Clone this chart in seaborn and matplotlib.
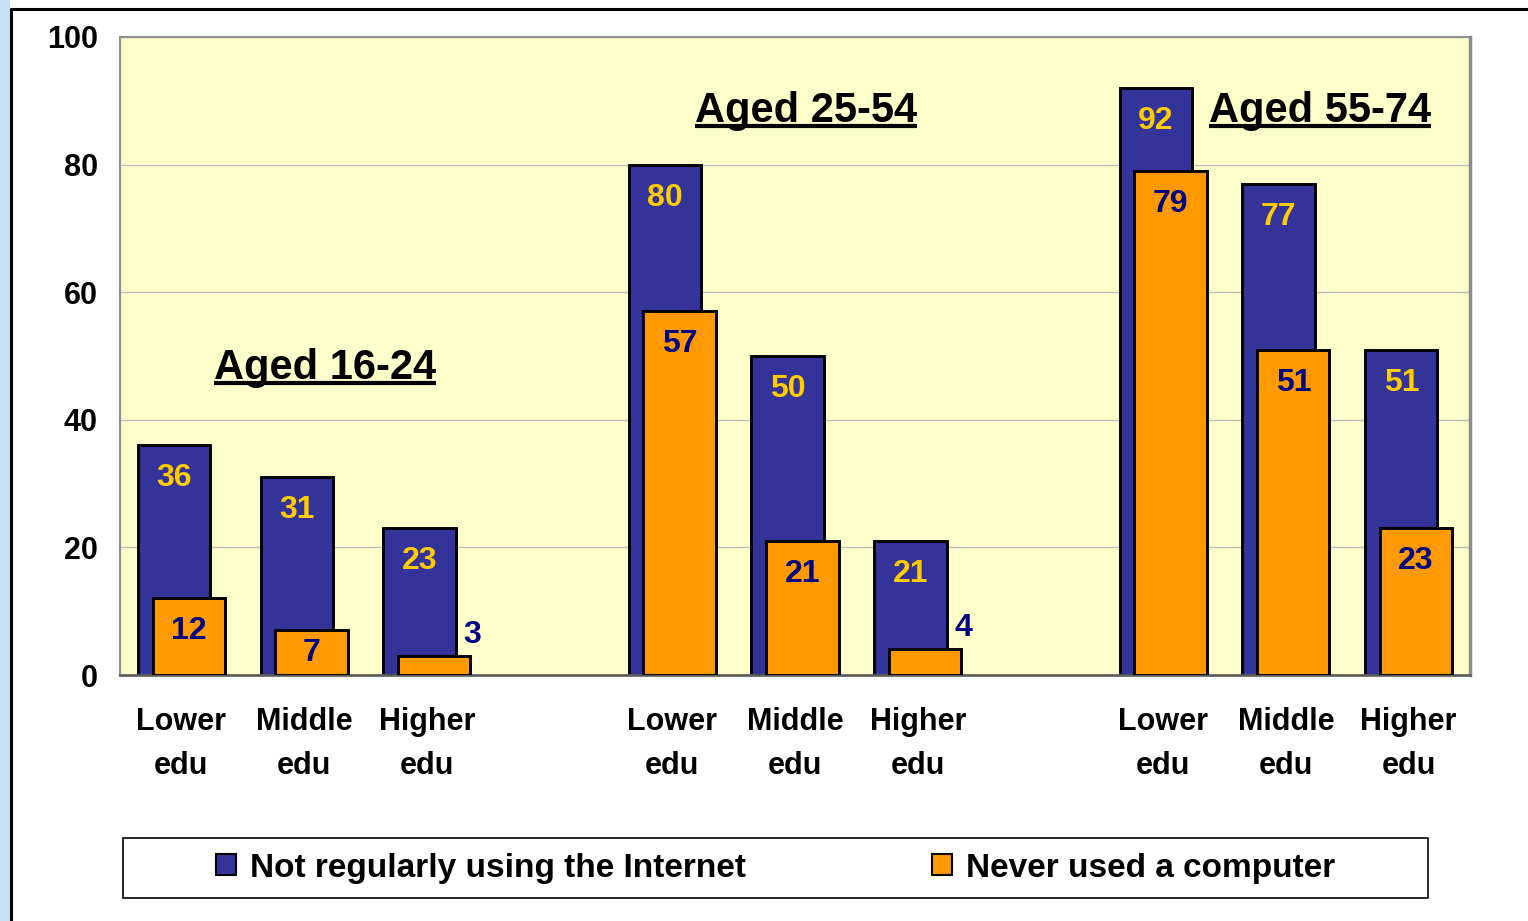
import numpy as np
import pandas as pd
import seaborn as sns
import matplotlib.pyplot as plt
from matplotlib.patches import Patch, Rectangle
from matplotlib.lines import Line2D

# data
ages = ['Aged 16-24', 'Aged 25-54', 'Aged 55-74']
edu_levels = ['Lower\nedu', 'Middle\nedu', 'Higher\nedu']
not_regular = [36, 31, 23, 80, 50, 21, 92, 77, 51]
never_used = [12, 7, 3, 57, 21, 4, 79, 51, 23]

BLUE, ORANGE = '#333399', '#FF9900'
GOLD, NAVY = '#FFCC00', '#000080'

sns.set_style('white')
plt.rcParams['font.family'] = ['Liberation Sans', 'DejaVu Sans']
plt.rcParams['font.weight'] = 'bold'
plt.rcParams['text.color'] = 'black'
plt.rcParams['xtick.labelcolor'] = 'black'
plt.rcParams['ytick.labelcolor'] = 'black'

slots, ticklabels = [], []
for i, age in enumerate(ages):
    for e in edu_levels:
        slots.append(f'{age}|{e}')
        ticklabels.append(e)
    if i < len(ages) - 1:
        slots.append(f'gap{i}')
        ticklabels.append('')
keys = [s for s in slots if not s.startswith('gap')]
df = pd.DataFrame({'slot': keys, 'not_regular': not_regular, 'never_used': never_used})

fig = plt.figure(figsize=(15.28, 9.21), dpi=100)
ax = fig.add_axes([120 / 1528, 1 - 675 / 921, 1350 / 1528, 638 / 921])
ax.set_facecolor('#FFFFCC')

width, shift = 0.59, 0.06
sns.barplot(data=df, x='slot', y='not_regular', order=slots, color=BLUE, width=width,
            edgecolor='black', linewidth=2.1, saturation=1, ax=ax, zorder=2)
n_blue = len(ax.patches)
for p in ax.patches:
    p.set_x(p.get_x() - shift)
sns.barplot(data=df, x='slot', y='never_used', order=slots, color=ORANGE, width=width,
            edgecolor='black', linewidth=2.1, saturation=1, ax=ax, zorder=3)
for p in ax.patches[n_blue:]:
    p.set_x(p.get_x() + shift)

ax.set_xlim(-0.5, len(slots) - 0.5)
ax.set_ylim(0, 100)


def label_offset(h):
    # 33 px below the top, or the middle of a short bar
    h_px = ax.transData.transform((0, h))[1] - ax.transData.transform((0, 0))[1]
    return -min(33, h_px / 2)


# value labels
for p in ax.patches[:n_blue]:
    h = p.get_height()
    ax.annotate(f'{h:.0f}', (p.get_x() + p.get_width() / 2, h),
                xytext=(0, label_offset(h)), textcoords='offset pixels', ha='center', va='center',
                color=GOLD, fontsize=23, fontweight='bold', zorder=5)
for p in ax.patches[n_blue:]:
    h = p.get_height()
    if h < 5:
        ax.annotate(f'{h:.0f}', (p.get_x() + p.get_width(), h), xytext=(2, 21),
                    textcoords='offset pixels', ha='center', va='center',
                    color=NAVY, fontsize=23, fontweight='bold', zorder=5)
    else:
        ax.annotate(f'{h:.0f}', (p.get_x() + p.get_width() / 2, h),
                    xytext=(0, label_offset(h)), textcoords='offset pixels', ha='center',
                    va='center', color=NAVY, fontsize=23, fontweight='bold', zorder=5)

ax.set_yticks([0, 20, 40, 60, 80, 100])
ax.set_xticks(range(len(slots)))
ax.set_xticklabels(ticklabels, fontsize=22, fontweight='bold', linespacing=1.6)
ax.tick_params(axis='x', length=0, pad=23)
ax.tick_params(axis='y', length=6, width=1.2, color='#808080', pad=10, labelsize=22)
for lab in ax.get_yticklabels():
    lab.set_fontweight('bold')
ax.set_xlabel('')
ax.set_ylabel('')
ax.yaxis.grid(True, color='#BDBDBD', linewidth=1)
ax.set_axisbelow(True)
for s in ['left', 'top']:
    ax.spines[s].set_color('#909090')
    ax.spines[s].set_linewidth(1.5)
ax.spines['right'].set_color('#8C8C8C')
ax.spines['right'].set_linewidth(2.5)
ax.spines['bottom'].set_color('#606060')
ax.spines['bottom'].set_linewidth(2)

# group titles
title_pos = [(1.17, 46.4), (5.09, 86.7), (9.28, 86.7)]
titles = [ax.text(x, y, a, ha='center', va='baseline', fontsize=30, fontweight='bold',
                  color='black', zorder=6)
          for a, (x, y) in zip(ages, title_pos)]

# legend with its own frame
lx0, ly0, lw_, lh = 123 / 1528, 1 - 898 / 921, 1305 / 1528, 60 / 921
fig.patches.append(Rectangle((lx0, ly0), lw_, lh, transform=fig.transFigure,
                             facecolor='white', edgecolor='black', linewidth=1.2))
handles = [Patch(facecolor=BLUE, edgecolor='black', linewidth=1.5),
           Patch(facecolor=ORANGE, edgecolor='black', linewidth=1.5)]
fig.legend(handles, ['Not regularly using the Internet', 'Never used a computer'],
           loc='center', bbox_to_anchor=(lx0 + lw_ / 2, ly0 + lh / 2), ncol=2, frameon=False,
           prop={'size': 24, 'weight': 'bold'}, handlelength=0.6, handleheight=0.6,
           handletextpad=0.4, columnspacing=5.6, labelcolor='black')

# slide border and left strip
fig.patches.append(Rectangle((0, 0), 10 / 1528, 1, transform=fig.transFigure,
                             facecolor='#C4E0F6', edgecolor='none'))
fig.lines.append(Line2D([11 / 1528, 11 / 1528], [0, 1 - 9 / 921], transform=fig.transFigure,
                        color='black', linewidth=2.2))
fig.lines.append(Line2D([11 / 1528, 1], [1 - 9 / 921, 1 - 9 / 921], transform=fig.transFigure,
                        color='black', linewidth=2.2))

# underline the titles
fig.canvas.draw()
r = fig.canvas.get_renderer()
inv = fig.transFigure.inverted()
for t in titles:
    bb = t.get_window_extent(r)
    (x0, y0), (x1, _) = inv.transform([(bb.x0, bb.y0 + 5), (bb.x1, bb.y0 + 5)])
    fig.lines.append(Line2D([x0, x1], [y0, y0], transform=fig.transFigure,
                            color='black', linewidth=3, solid_capstyle='butt'))

fig.savefig('out.png', dpi=100)
